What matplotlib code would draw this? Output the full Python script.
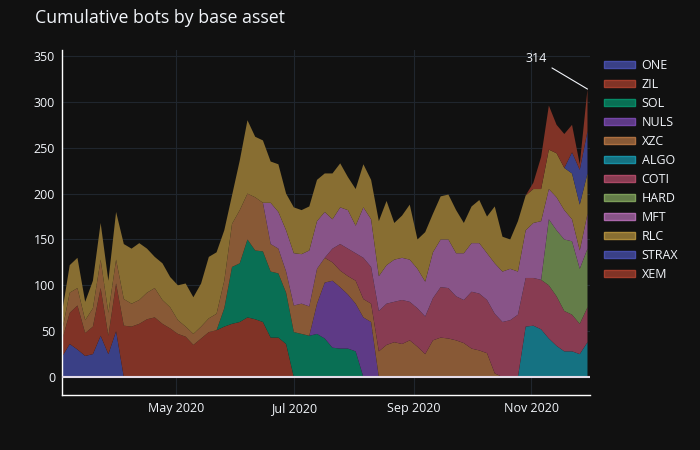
import matplotlib
matplotlib.use("Agg")
import matplotlib.pyplot as plt
import matplotlib.dates as mdates
from matplotlib.colors import to_rgb
from matplotlib.patches import Patch
import pandas as pd

## ## data: bots per base asset, every 4 days
dates = pd.date_range("2020-03-03", periods=69, freq="4D")

names = ["ONE", "ZIL", "SOL", "NULS", "XZC", "ALGO", "COTI", "HARD",
         "MFT", "RLC", "STRAX", "XEM"]

one = [22, 36, 30, 23, 25, 45, 25, 50] + [0] * 61
zil = ([18, 34, 48, 25, 30, 52, 20, 52,
        56, 55, 58, 63, 65, 58, 53, 47, 44, 35, 42, 49, 51,
        55, 58, 60, 65, 63, 60, 43, 43, 36] + [0] * 39)
sol = ([0] * 21 + [20, 62, 64, 85, 75, 77, 72, 70, 56, 49, 47, 45, 47, 42,
                   32, 31, 31, 28] + [0] * 30)
nuls = [0] * 33 + [33, 61, 73, 67, 59, 52, 65, 60] + [0] * 28
xzc = ([10, 22, 19, 14, 20, 31, 25, 26,
        29, 25, 26, 29, 32, 26, 23, 15, 11, 12, 13, 15, 18,
        30, 47, 58, 50, 58, 53,
        30, 27, 23, 29, 33, 32,
        38, 27, 20, 18, 20, 25, 20, 20,
        28, 35, 38, 36, 40, 33, 25, 40, 43, 42, 40, 37, 31, 29, 26, 4]
       + [0] * 12)
algo = [0] * 60 + [55, 56, 52, 42, 34, 28, 28, 25, 38]
coti = ([0] * 35 + [15, 29, 30, 30, 45, 40,
                    44, 45, 44, 48, 42, 42, 41, 46, 55, 55, 48, 47, 62, 62, 58, 65,
                    60, 62, 68,
                    53, 52, 54, 58, 54, 44, 40, 33, 38])
hard = [0] * 63 + [72, 72, 78, 80, 60, 64]
mft = ([0] * 27 + [45, 40, 45, 57, 54, 61,
                   52, 50, 32, 40, 42, 30, 55, 52,
                   38, 42, 46, 46, 46, 43, 38, 50, 52, 53, 47, 51, 53, 55, 51, 55,
                   55, 56, 47,
                   52, 60, 64,
                   33, 36, 32, 24, 20, 38])
rlc = [20, 30, 33, 20, 30, 40, 35, 52,
       60, 60, 62, 48, 34, 40, 33, 38, 47, 40, 47, 67, 67,
       55, 31, 54, 80, 66, 68,
       45, 52, 40, 50, 48, 48,
       45, 42, 50, 48, 36, 40, 47, 43,
       60, 70, 40, 46, 60, 32, 54, 42, 47, 49, 47, 33, 40, 47, 40, 62,
       38, 32, 55,
       38, 37, 35,
       43, 48, 46, 50, 50, 44]
strax = [0] * 66 + [23, 38, 46]
xem = [0] * 61 + [7, 35, 48, 31, 37, 30, 6, 46]

series = [one, zil, sol, nuls, xzc, algo, coti, hard, mft, rlc, strax, xem]
total_last = sum(s[-1] for s in series)

## ## style
bg = "#111111"
fg = "#f2f5fa"
grid = "#20262e"
palette = ["#636efa", "#EF553B", "#00cc96", "#ab63fa", "#FFA15A", "#19d3f3",
           "#FF6692", "#B6E880", "#FF97FF", "#FECB52", "#636efa", "#EF553B"]


def blend(c, a):
    r, g, b = to_rgb(c)
    br, bgc, bb = to_rgb(bg)
    return (a * r + (1 - a) * br, a * g + (1 - a) * bgc, a * b + (1 - a) * bb)


fills = [blend(c, 0.5) for c in palette]

plt.rcParams["font.family"] = ["Open Sans", "DejaVu Sans"]

fig = plt.figure(figsize=(7, 4.5), dpi=100, facecolor=bg)
ax = fig.add_axes([62 / 700, 55 / 450, 528 / 700, 345 / 450])
ax.set_facecolor(bg)

ax.stackplot(dates, *series, colors=fills, linewidth=0, labels=names, zorder=2)
ax.axhline(0, color="#e4dce8", lw=1.5, zorder=3)

ax.set_ylim(-19.6, 356.6)
ax.set_xlim(dates[0], dates[0] + pd.Timedelta(days=273.3))
ax.set_yticks(range(0, 351, 50))
ax.xaxis.set_major_locator(mdates.MonthLocator(bymonth=[5, 7, 9, 11]))
ax.xaxis.set_major_formatter(mdates.DateFormatter("%b %Y"))
ax.grid(True, color=grid, lw=0.8, zorder=0)
ax.set_axisbelow(True)
ax.tick_params(length=0, colors=fg, labelsize=9)
ax.tick_params(axis="y", pad=5)
ax.tick_params(axis="x", pad=5)
for side in ["top", "right"]:
    ax.spines[side].set_visible(False)
for side in ["left", "bottom"]:
    ax.spines[side].set_color("white")
    ax.spines[side].set_linewidth(1)

## annotation on the last total
ax.annotate(str(total_last), xy=(dates[-1], total_last), xytext=(-37, 22),
            textcoords="offset points", ha="center", va="center",
            color=fg, fontsize=9,
            arrowprops=dict(arrowstyle="-", color=fg, lw=0.8, shrinkA=2, shrinkB=0))

## legend
handles = [Patch(facecolor=fills[i], edgecolor=blend(palette[i], 0.65), lw=1,
                 label=names[i]) for i in range(len(names))]
leg = ax.legend(handles=handles, loc="upper left",
                bbox_to_anchor=(604 / 700, 1 - 59 / 450),
                bbox_transform=fig.transFigure, frameon=False, fontsize=9,
                handlelength=2.5, handleheight=0.5, labelspacing=0.48,
                handletextpad=0.5, borderaxespad=0, borderpad=0)
for t in leg.get_texts():
    t.set_color(fg)

fig.text(35 / 700, 1 - 18 / 450, "Cumulative bots by base asset",
         fontsize=12.75, color=fg, va="center")

fig.savefig("out.png", dpi=100, facecolor=bg)
